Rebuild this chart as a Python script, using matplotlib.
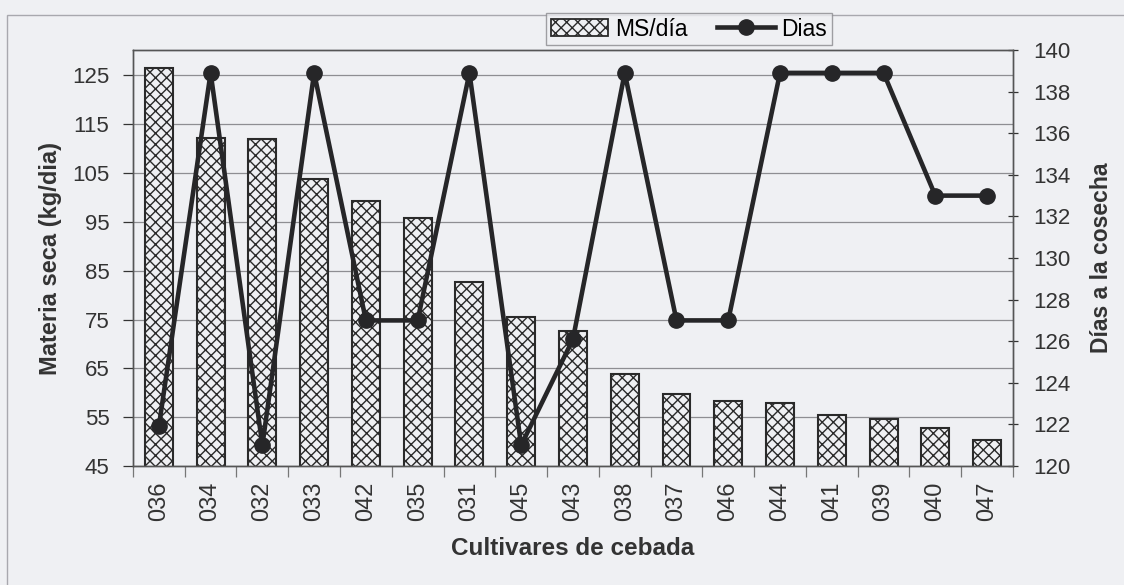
import matplotlib.pyplot as plt
import matplotlib.patches as mpatches
from matplotlib.lines import Line2D
import numpy as np

# values
cultivares = ['036', '034', '032', '033', '042', '035', '031', '045', '043',
              '038', '037', '046', '044', '041', '039', '040', '047']
ms_dia = [126.5, 112.2, 112.0, 103.8, 99.2, 95.7, 82.6, 75.6, 72.7,
          63.8, 59.7, 58.3, 57.9, 55.5, 54.7, 52.8, 50.4]
dias = [121.9, 138.9, 121.0, 138.9, 127.0, 127.0, 138.9, 121.0, 126.1,
        138.9, 127.0, 127.0, 138.9, 138.9, 138.9, 133.0, 133.0]

plt.rcParams['font.family'] = ['Liberation Sans', 'DejaVu Sans']
plt.rcParams['hatch.linewidth'] = 1.0
plt.rcParams['hatch.color'] = '#3a3a3a'

bg = '#eff0f3'
fig = plt.figure(figsize=(11.24, 5.85), dpi=100, facecolor=bg)
ax = fig.add_axes([0.1183, 0.2034, 0.7829, 0.7111])
ax.set_facecolor(bg)

# outer chart-area frame (left and top edges visible in the scan)
fig.patches.append(mpatches.Rectangle((7 / 1124, -0.1), 1.2, 1 - 15 / 585 + 0.1,
                                      transform=fig.transFigure, fill=False,
                                      edgecolor='#a8a8ae', lw=1.0, zorder=0))

x = np.arange(len(cultivares))
ax.bar(x, ms_dia, width=0.54, bottom=0, color=bg, edgecolor='#2a2a2a',
       hatch='xxx', linewidth=1.5, zorder=2)

ax.set_xlim(-0.5, len(cultivares) - 0.5)
ax.set_ylim(45, 130.2)
ax.set_yticks(np.arange(45, 126, 10))
ax.yaxis.grid(True, color='#8e8e92', lw=0.9)
ax.set_axisbelow(True)

ax.set_xticks(x)
ax.set_xticklabels(cultivares, rotation=90, fontsize=17, color='#333333')
ax.set_xticks(np.arange(-0.5, len(cultivares), 1), minor=True)
ax.tick_params(axis='x', which='major', length=0, pad=11)
ax.tick_params(axis='x', which='minor', length=8, width=0.9, color='#777777',
               direction='out')
ax.tick_params(axis='y', labelsize=16, colors='#333333', length=7,
               width=0.9, pad=10)

for s in ax.spines.values():
    s.set_color('#555555')
    s.set_linewidth(1.0)

ax.set_ylabel('Materia seca (kg/dia)', fontsize=17, fontweight='bold',
              color='#333333', labelpad=7)
ax.set_xlabel('Cultivares de cebada', fontsize=17.5, fontweight='bold',
              color='#333333', labelpad=12)

ax2 = ax.twinx()
ax2.plot(x, dias, color='#262628', lw=3.3, marker='o', markersize=11,
         zorder=5)
ax2.set_ylim(120, 140)
ax2.set_yticks(np.arange(120, 141, 2))
ax2.tick_params(axis='y', labelsize=16, colors='#333333', length=7,
                width=0.9, direction='inout', pad=11)
ax2.set_ylabel('Días a la cosecha', fontsize=16.5, fontweight='bold',
               color='#333333', labelpad=14)
for s in ax2.spines.values():
    s.set_color('#555555')
    s.set_linewidth(1.0)

handles = [mpatches.Patch(facecolor=bg, edgecolor='#2a2a2a', hatch='xxx',
                          linewidth=1.3),
           Line2D([], [], color='#262628', lw=3.3, marker='o', markersize=11)]
leg = fig.legend(handles, ['MS/día', 'Dias'], loc='center',
                 bbox_to_anchor=(689 / 1124, 1 - 29 / 585), ncol=2,
                 fontsize=16.5, frameon=True, fancybox=False,
                 handlelength=2.5, handleheight=0.7, handletextpad=0.3,
                 columnspacing=1.3, borderpad=0.2)
leg.get_frame().set_edgecolor('#8a8a8e')
leg.get_frame().set_facecolor(bg)
leg.get_frame().set_linewidth(1.0)

fig.savefig('out.png', dpi=100, facecolor=bg)
